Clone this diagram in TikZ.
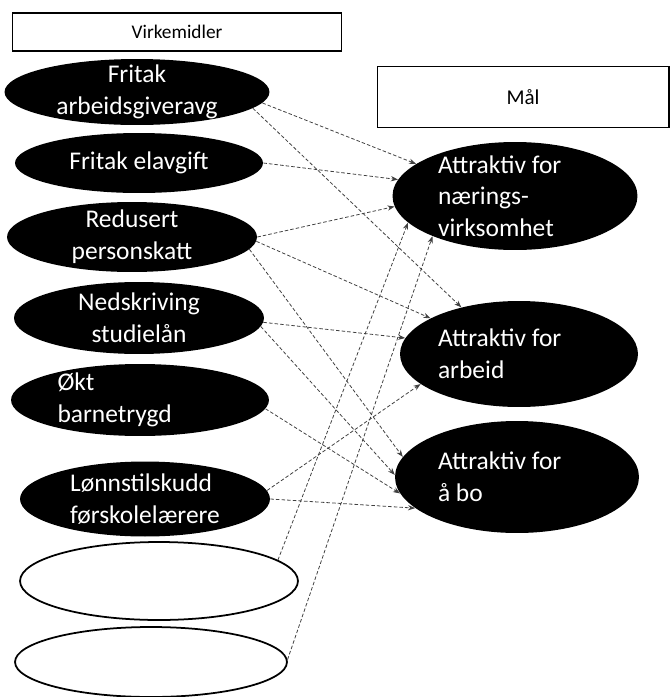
\documentclass[tikz,border=0pt]{standalone}
\usepackage{fontspec}
\setmainfont{Carlito}
\usetikzlibrary{arrows.meta,shapes.geometric}

\begin{document}
\begin{tikzpicture}[x=0.02cm, y=-0.02cm, >={Stealth[length=4pt,width=3pt]},
  tool/.style={ellipse,fill=black,text=white,inner xsep=0pt,inner ysep=-10pt,align=center,
  font=\fontsize{14.5}{18}\selectfont},
  goal/.style={tool,align=flush left},
  blank/.style={ellipse,draw,line width=1pt,fill=white,inner sep=0pt},
  head/.style={draw,line width=0.6pt,inner sep=0pt,font=\fontsize{11}{13}\selectfont},
  link/.style={->,dash pattern=on 2pt off 1.2pt,black!75,line width=0.45pt}]
\useasboundingbox (0,0) rectangle (671,697);
\node[head,minimum width=6.6cm,minimum height=0.76cm] (virk) at (177,32) {Virkemidler};
\node[head,minimum width=5.84cm,minimum height=1.22cm,font=\fontsize{12}{14}\selectfont] (maal) at (523,97) {Mål};
\node[tool,minimum width=5.3cm,minimum height=1.32cm] (n1) at (137,92) {Fritak\\ arbeidsgiveravg};
\node[tool,minimum width=4.96cm,minimum height=1.2cm] (n2) at (139,163) {Fritak elavgift};
\node[tool,minimum width=5cm,minimum height=1.4cm] (n3) at (132,237) {Redusert\\ personskatt};
\node[tool,minimum width=5cm,minimum height=1.44cm] (n4) at (139,318) {Nedskriving\\ studielån};
\node[tool,align=flush left,text width=3.3cm,minimum width=5.16cm,minimum height=1.44cm] (n5) at (140,400) {Økt\\ barnetrygd};
\node[tool,align=left,minimum width=5cm,minimum height=1.5cm] (n6) at (145,499) {Lønnstilskudd\\ førskolelærere};
\node[blank,minimum width=5.56cm,minimum height=1.56cm] (e1) at (159,581) {};
\node[blank,minimum width=5.44cm,minimum height=1.4cm] (e2) at (151,662) {};
\node[goal,text width=3.08cm,minimum width=4.9cm,minimum height=2.16cm] (A) at (515,196) {Attraktiv for\\ nærings-\\ virksomhet};
\node[goal,text width=3.24cm,minimum width=4.76cm,minimum height=2.12cm] (B) at (519,354) {Attraktiv for\\ arbeid};
\node[goal,text width=3.16cm,minimum width=4.88cm,minimum height=2.24cm] (C) at (517,477) {Attraktiv for\\ å bo};
\draw[link] (n1.-5)--(A.162); \draw[link] (n1.-8)--(B.141);
\draw[link] (n2.east)--(A.172);
\draw[link] (n3.0)--(A.185); \draw[link] (n3.-2)--(B.158); \draw[link] (n3.-6)--(C.170);
\draw[link] (n4.-2)--(B.172); \draw[link] (n4.-4)--(C.179);
\draw[link] (n5.-4)--(C.188);
\draw[link] (n6.4)--(B.197); \draw[link] (n6.0)--(C.197);
\draw[link] (e1.10)--(A.194); \draw[link] (e2.1)--(A.206);
\end{tikzpicture}
\end{document}
